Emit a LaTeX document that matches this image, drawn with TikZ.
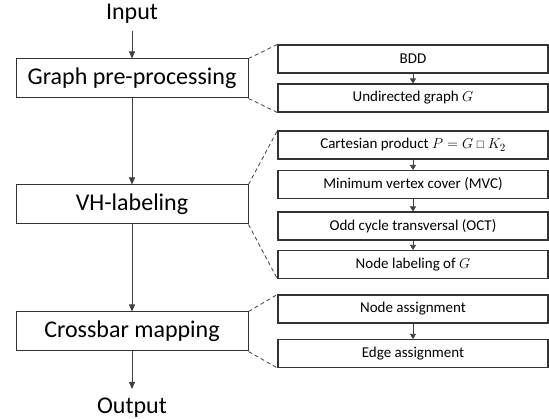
\documentclass[tikz,border=0pt]{standalone}
\usepackage{amssymb}
\usepackage{fontspec}
\setmainfont{Carlito}
\usetikzlibrary{arrows.meta}
\begin{document}
\begin{tikzpicture}[x=1pt,y=-1pt,
  bigbox/.style={draw=black!80,line width=1pt,minimum width=232pt,minimum height=39pt,inner sep=0pt,font=\fontsize{24}{28}\selectfont},
  smallbox/.style={draw=black!80,line width=1.1pt,minimum width=270pt,minimum height=28pt,inner sep=0pt,font=\fontsize{15}{18}\selectfont},
  plain/.style={inner sep=0pt,font=\fontsize{24}{28}\selectfont},
  flow/.style={draw=black!75,line width=0.8pt,-{Triangle[length=7pt,width=6pt]}},
  sflow/.style={draw=black!75,line width=0.8pt,-{Triangle[length=5pt,width=6pt]}},
  zoomline/.style={draw=black!75,line width=0.8pt,dash pattern=on 4pt off 3pt}]
\useasboundingbox (0,0) rectangle (549,419);
% left column
\node[plain] (in) at (132,14) {Input};
\node[bigbox] (gp) at (132,78.5) {Graph pre-processing};
\node[bigbox] (vh) at (132,204.5) {VH-labeling};
\node[bigbox] (cm) at (132,331.5) {Crossbar mapping};
\node[plain] (out) at (132,408) {Output};
\coordinate (inA) at (132,31);
\coordinate (outA) at (132,389);
\draw[flow] (inA) -- (gp.north);
\draw[flow] (gp.south) -- (vh.north);
\draw[flow] (vh.south) -- (cm.north);
\draw[flow] (cm.south) -- (outA);
% right column
\node[smallbox] (bdd) at (413,59) {BDD};
\node[smallbox] (ug) at (413,98) {Undirected graph $G$};
\node[smallbox] (cp) at (413,145) {Cartesian product $P=G\mathbin{\scriptstyle\square}K_2$};
\node[smallbox] (mvc) at (413,184.5) {Minimum vertex cover (MVC)};
\node[smallbox] (oct) at (413,226) {Odd cycle transversal (OCT)};
\node[smallbox] (nl) at (413,264.5) {Node labeling of $G$};
\node[smallbox] (na) at (413,309) {Node assignment};
\node[smallbox] (ea) at (413,353.5) {Edge assignment};
\draw[sflow] (bdd.south) -- (ug.north);
\draw[sflow] (cp.south) -- (mvc.north);
\draw[sflow] (mvc.south) -- (oct.north);
\draw[sflow] (oct.south) -- (nl.north);
\draw[sflow] (na.south) -- (ea.north);
% zoom lines
\draw[zoomline] (gp.north east) -- (bdd.north west);
\draw[zoomline] (gp.south east) -- (ug.south west);
\draw[zoomline] (vh.north east) -- (cp.north west);
\draw[zoomline] (vh.south east) -- (nl.south west);
\draw[zoomline] (cm.north east) -- (na.north west);
\draw[zoomline] (cm.south east) -- (ea.south west);
\end{tikzpicture}
\end{document}
